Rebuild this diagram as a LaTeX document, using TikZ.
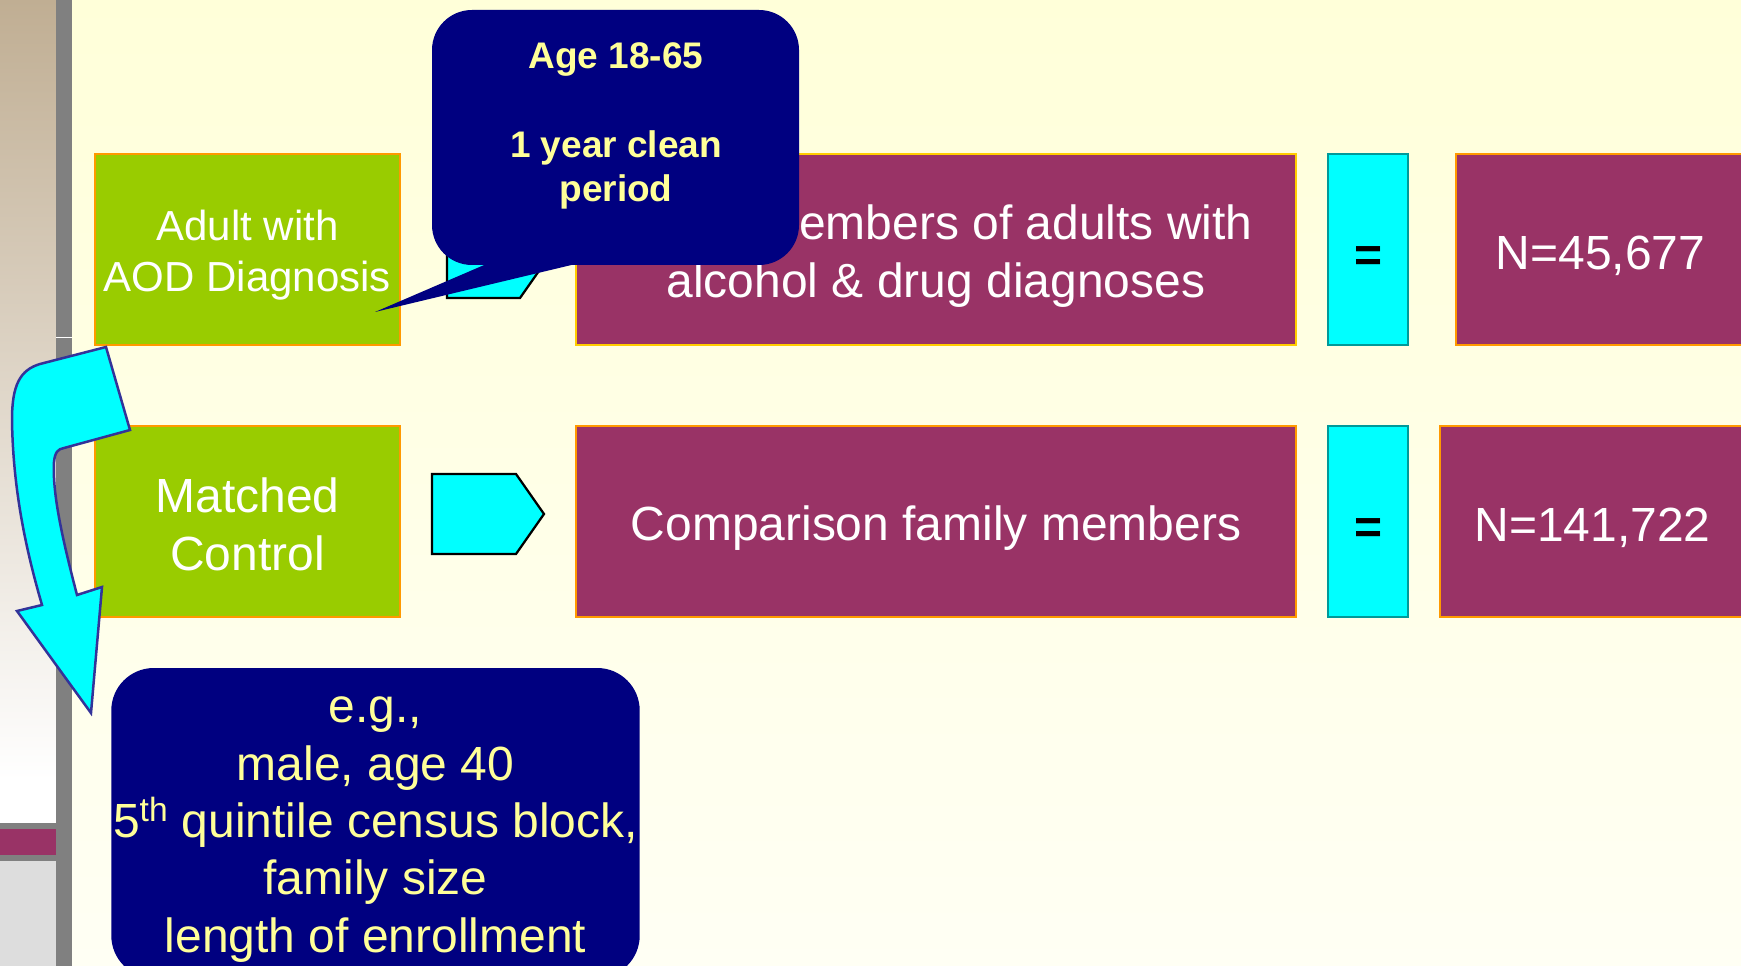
\documentclass[tikz,border=0pt]{standalone}
\usepackage{fontspec}
\setmainfont{Liberation Sans}
\usepackage{tikz}
\usetikzlibrary{positioning,calc}
\definecolor{slidetop}{HTML}{FFFFD9}
\definecolor{slidebot}{HTML}{FFFFF4}
\definecolor{striptan}{HTML}{C0AE93}
\definecolor{bargrey}{HTML}{808080}
\definecolor{footgrey}{HTML}{DDDDDD}
\definecolor{lime}{HTML}{99CC00}
\definecolor{amber}{HTML}{FF9900}
\definecolor{gold}{HTML}{FFCC00}
\definecolor{plum}{HTML}{993366}
\definecolor{aqua}{HTML}{00FFFF}
\definecolor{eqteal}{HTML}{009999}
\definecolor{navyblue}{HTML}{000080}
\definecolor{paleyel}{HTML}{FFFF99}
\definecolor{arrowrim}{HTML}{333399}
\newcommand{\bigtxt}{\fontsize{27.3}{33}\selectfont}
\newcommand{\midtxt}{\fontsize{23.9}{28.5}\selectfont}
\newcommand{\agetxt}{\fontsize{21.05}{25.3}\selectfont\bfseries}
% taller first line, pushes the text a little lower in its box
\newcommand{\dropby}[1]{\rule{0pt}{\dimexpr0.73em+#1\relax}}

\begin{document}
\begin{tikzpicture}[font=\bigtxt,
 group/.style={draw=amber,fill=lime,line width=0.05cm,minimum width=6.1cm,minimum height=3.82cm,text=white,align=center,inner sep=2pt},
 famcell/.style={draw=amber,fill=plum,line width=0.05cm,minimum width=14.4cm,minimum height=3.82cm,text=white,align=center,inner sep=2pt},
 eqcell/.style={draw=eqteal,fill=aqua,line width=0.05cm,minimum width=1.6cm,minimum height=3.82cm,font=\bigtxt\bfseries,inner sep=2pt},
 pent/.style={draw=black,fill=aqua,line width=0.045cm,line join=miter},
 turnarrow/.style={draw=arrowrim,fill=aqua,line width=0.05cm,line join=miter},
 note/.style={fill=navyblue,rounded corners=0.8cm,text=paleyel,align=center,inner sep=1pt}]
\useasboundingbox (0,0) rectangle (34.82,-19.32);
\clip (0,0) rectangle (34.82,-19.32);
% slide background and left strip
\shade[top color=slidetop,bottom color=slidebot] (1.44,0) rectangle (34.82,-19.32);
\shade[top color=striptan,bottom color=white] (0,0) rectangle (1.12,-15.6);
\fill[white] (0,-15.6) rectangle (1.12,-16.46);
\fill[bargrey] (0,-16.46) rectangle (1.12,-16.58);
\fill[plum] (0,-16.58) rectangle (1.12,-17.10);
\fill[bargrey] (0,-17.10) rectangle (1.12,-17.22);
\fill[footgrey] (0,-17.22) rectangle (1.12,-19.32);
\fill[bargrey] (1.12,0) rectangle (1.44,-19.32);
\draw[white,line width=0.02cm] (1.12,-6.76) -- (1.44,-6.76);
% rows
\node[group,font=\midtxt] (aod) at (4.95,-4.99) {\dropby{0.22cm}Adult with\\AOD Diagnosis};
\node[group] (ctrl) at (4.95,-10.43) {\dropby{0.1cm}Matched\\Control};
\draw[pent] (8.94,-4.36) -- (10.40,-4.36) -- (10.96,-5.16) -- (10.40,-5.96) -- (8.94,-5.96) -- cycle;
\draw[pent] (8.64,-9.48) -- (10.32,-9.48) -- (10.88,-10.28) -- (10.32,-11.08) -- (8.64,-11.08) -- cycle;
\node[famcell,draw=gold] (fam) at (18.72,-4.99) {\dropby{0.24cm}Family members of adults with\hspace*{0.3cm}\\alcohol \& drug diagnoses};
\node[famcell] (comp) at (18.72,-10.43) {\dropby{0.24cm}Comparison family members};
\node[eqcell] (eqa) at (27.36,-4.99) {\dropby{0.18cm}=};
\node[eqcell] (eqb) at (27.36,-10.43) {\dropby{0.18cm}=};
\node[famcell,minimum width=5.78cm] (na) at (32.01,-4.99) {\dropby{0.22cm}N=45,677};
\node[famcell,minimum width=6.10cm] (nb) at (31.85,-10.43) {\dropby{0.22cm}N=141,722};
% curved arrow down to the matching criteria
\draw[turnarrow] (2.12,-6.94) -- (0.80,-7.28) .. controls (0.40,-7.40) and (0.24,-7.70) .. (0.24,-8.40)
 .. controls (0.26,-9.80) and (0.52,-11.00) .. (0.84,-12.10) -- (0.34,-12.22) -- (1.82,-14.26)
 -- (2.04,-11.74) -- (1.54,-11.90) .. controls (1.28,-10.90) and (1.04,-9.90) .. (1.08,-9.24)
 .. controls (1.10,-9.04) and (1.16,-8.98) .. (1.28,-8.96) -- (2.60,-8.60) -- cycle;
% callouts
\node[note,minimum width=7.34cm,minimum height=5.10cm] (agebox) at (12.31,-2.75) {};
\coordinate (agetip) at (7.50,-6.24);
\fill[navyblue] ([xshift=1.22cm,yshift=0.08cm]agebox.south west) -- (agetip) -- ([xshift=3.10cm,yshift=0.08cm]agebox.south west) -- cycle;
\node[font=\agetxt,text=paleyel,align=center] (agetext) at (12.32,-2.52) {Age 18-65\\[25.3pt]1 year clean\\period};
\node[note,font=\fontsize{27.3}{32.6}\selectfont,minimum width=10.54cm,minimum height=6.20cm,rounded corners=0.85cm] (match) at (7.51,-16.46) {\dropby{0.08cm}e.g.,\\male, age 40\\5\textsuperscript{th} quintile census block,\\family size\\length of enrollment};
\end{tikzpicture}
\end{document}
